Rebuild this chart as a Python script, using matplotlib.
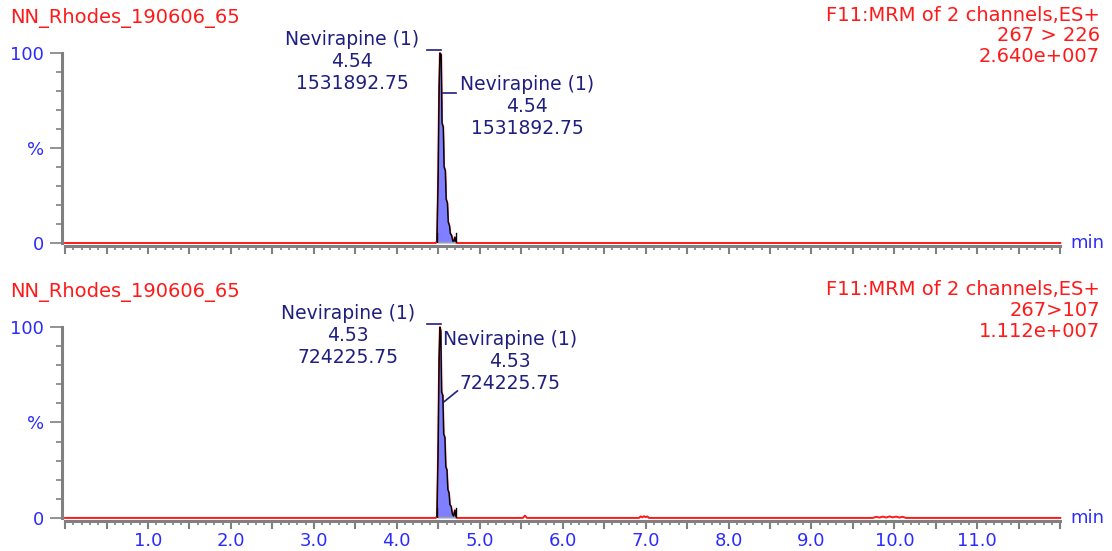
import numpy as np
import matplotlib.pyplot as plt
from matplotlib.ticker import MultipleLocator

# chromatogram traces: time (min) and relative intensity (%)
top_time = [0.0, 4.47, 4.485, 4.50, 4.51, 4.52, 4.535, 4.545, 4.56, 4.57, 4.585, 4.595,
            4.61, 4.62, 4.635, 4.645, 4.66, 4.675, 4.69, 4.70, 4.71, 4.72, 12.0]
top_int = [0, 0, 1, 38, 80, 100, 99, 63, 61, 40, 38, 23, 21, 11, 9, 5, 4, 1, 1, 3, 1, 0, 0]

bot_time = [0.0, 4.47, 4.485, 4.50, 4.51, 4.52, 4.53, 4.54, 4.555, 4.565, 4.58, 4.59,
            4.605, 4.615, 4.63, 4.64, 4.655, 4.67, 4.685, 4.70, 4.71, 4.72,
            5.52, 5.545, 5.57, 6.92, 6.94, 6.96, 6.98, 7.00, 7.02, 7.04,
            9.74, 9.78, 9.82, 9.86, 9.90, 9.94, 9.98, 10.02, 10.06, 10.10, 10.14, 12.0]
bot_int = [0, 0, 1, 40, 82, 100, 98, 66, 64, 44, 42, 27, 25, 15, 13, 7, 6, 2, 1, 4, 1, 0,
           0, 1.2, 0, 0, 0.8, 0.3, 0.9, 0.4, 0.8, 0,
           0, 0.6, 0.2, 0.7, 0.2, 0.8, 0.3, 0.7, 0.2, 0.6, 0, 0]

# integrated peak window (min)
top_peak = (4.485, 4.715)
bot_peak = (4.485, 4.715)

file_name = "NN_Rhodes_190606_65"
func_name = "F11:MRM of 2 channels,ES+"
top_info = ["267 > 226", "2.640e+007"]
bot_info = ["267>107", "1.112e+007"]

compound = "Nevirapine (1)"
top_rt, top_area = "4.54", "1531892.75"
bot_rt, bot_area = "4.53", "724225.75"

red = "#ff1a1a"
blue = "#2b2bff"
navy = "#1f1f80"
grey = "#808080"
fnt = "DejaVu Sans"

fig = plt.figure(figsize=(11.12, 5.51), dpi=100)
ax1 = fig.add_axes([0.0585, 0.559, 0.895, 0.345])
ax2 = fig.add_axes([0.0585, 0.060, 0.895, 0.3465])


def draw_trace(ax, t, y, peak, labels):
    t = np.array(t)
    y = np.array(y, dtype=float)
    inpk = (t >= peak[0]) & (t <= peak[1])
    ax.plot(t, y, color=red, lw=1.4, zorder=3, clip_on=False)
    ax.fill_between(t, 0, y, where=inpk, color="#7f7fff", lw=0, zorder=3.2)
    ax.plot(t[inpk], y[inpk], color="black", lw=1.0, zorder=4)
    # integration markers and baseline
    ax.plot(peak, [0, 0], color="#a0a0a0", lw=2.5, zorder=3.5, solid_capstyle="butt")
    for px in peak:
        ax.plot([px, px], [0, 5], color="black", lw=1.0, zorder=4)

    ax.set_xlim(0, 12)
    ax.set_ylim(0, 100)
    for s in ["top", "right"]:
        ax.spines[s].set_visible(False)
    ax.spines["left"].set_color(grey)
    ax.spines["left"].set_linewidth(2.2)
    ax.spines["bottom"].set_color(grey)
    ax.spines["bottom"].set_linewidth(2.2)
    ax.spines["bottom"].set_position(("outward", 2))
    ax.spines["left"].set_position(("outward", 2))

    ax.set_yticks([0, 50, 100])
    ax.set_yticklabels(["0", "%", "100"])
    ax.yaxis.set_minor_locator(MultipleLocator(10))
    ax.tick_params(axis="y", which="major", length=9, width=1.2, color=grey,
                   labelcolor=blue, labelsize=13, pad=4)
    ax.tick_params(axis="y", which="minor", length=4, width=1.2, color=grey)

    ax.xaxis.set_major_locator(MultipleLocator(0.5))
    ax.xaxis.set_minor_locator(MultipleLocator(0.1))
    ax.tick_params(axis="x", which="major", length=6, width=1.5, color=grey,
                   labelcolor=blue, labelsize=13, pad=2)
    ax.tick_params(axis="x", which="minor", length=3, width=1.2, color=grey)
    if labels:
        ax.set_xticklabels(["%.1f" % v if (abs(v - round(v)) < 1e-6 and 0 < v < 12) else ""
                            for v in ax.get_xticks()])
    else:
        ax.set_xticklabels([])
    for lab in ax.get_xticklabels() + ax.get_yticklabels():
        lab.set_family(fnt)
    ax.text(1.010, 0, "min", transform=ax.transAxes, color=blue, fontsize=13,
            ha="left", va="center", family=fnt)


draw_trace(ax1, top_time, top_int, top_peak, False)
draw_trace(ax2, bot_time, bot_int, bot_peak, True)

ann = dict(color=navy, fontsize=13.5, ha="center", va="center", family=fnt,
           linespacing=1.2, clip_on=False, zorder=6)

# top panel labels
ax1.text(3.46, 95.5, compound + "\n" + top_rt + "\n" + top_area, **ann)
ax1.plot([4.37, 4.535], [101.5, 101.5], color=navy, lw=1.2, clip_on=False)
ax1.text(5.57, 71.6, compound + "\n" + top_rt + "\n" + top_area, **ann)
ax1.plot([4.545, 4.715], [79, 79], color=navy, lw=1.2, clip_on=False)

# bottom panel labels
ax2.text(3.41, 95.5, compound + "\n" + bot_rt + "\n" + bot_area, **ann)
ax2.plot([4.37, 4.53], [101.5, 101.5], color=navy, lw=1.2, clip_on=False)
ax2.text(5.36, 81.7, compound + "\n" + bot_rt + "\n" + bot_area, **ann)
ax2.plot([4.56, 4.73], [60.5, 66.5], color=navy, lw=1.2, clip_on=False)

# headers
hd = dict(color=red, fontsize=14, family=fnt, va="center")
fig.text(0.009, 0.967, file_name, ha="left", **hd)
fig.text(0.989, 0.935, func_name + "\n" + "\n".join(top_info), ha="right",
         linespacing=1.12, **hd)
fig.text(0.009, 0.470, file_name, ha="left", **hd)
fig.text(0.989, 0.436, func_name + "\n" + "\n".join(bot_info), ha="right",
         linespacing=1.12, **hd)

fig.savefig("out.png", dpi=100)
